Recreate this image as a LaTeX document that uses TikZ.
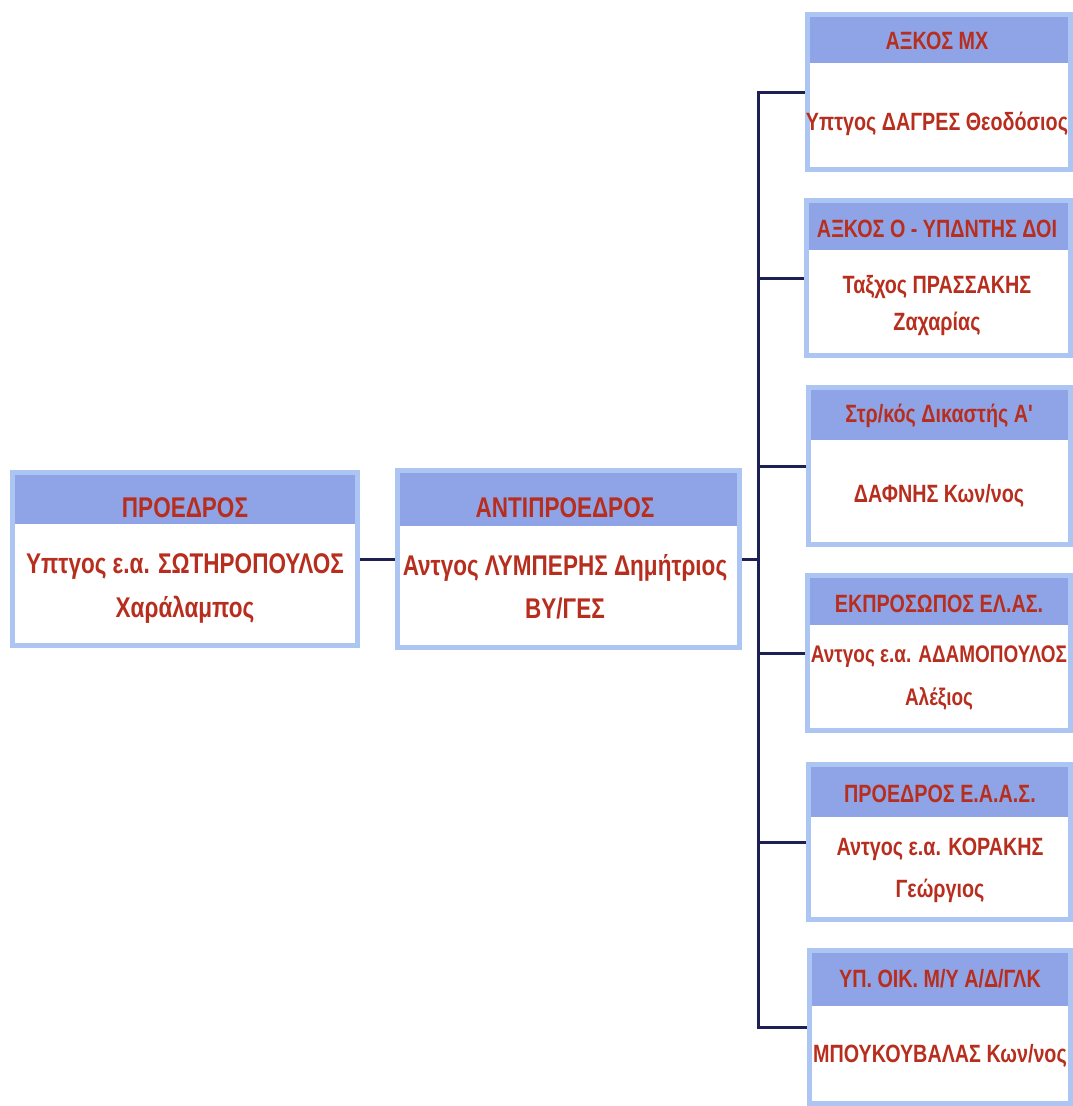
\documentclass[tikz,border=0pt]{standalone}
\usepackage{fontspec}
\newfontfamily\orgfont{Liberation Sans}[FakeStretch=0.79]
\definecolor{edgeblue}{RGB}{172,197,242}
\definecolor{bandblue}{RGB}{143,164,230}
\definecolor{inkred}{RGB}{184,46,30}
\definecolor{navyline}{RGB}{28,32,82}
\tikzset{
  orgbox/.style={rectangle, draw=edgeblue, line width=5pt, fill=white, inner sep=0pt},
  band/.style={rectangle, fill=bandblue, inner sep=0pt, anchor=north},
  bigtext/.style={text=inkred, font=\orgfont\bfseries\fontsize{28.5}{44}\selectfont, align=center, anchor=base, inner sep=0pt},
  smalltext/.style={text=inkred, font=\orgfont\bfseries\fontsize{25}{43}\selectfont, align=center, anchor=base, inner sep=0pt},
  link/.style={draw=navyline, line width=3pt},
}
% box with header band: name, left, top, right, bottom, band bottom
\newcommand\orgunit[6]{%
  \node[orgbox, minimum width={#4-#2-5}, minimum height={#5-#3-5}]
    (#1) at ({(#2+#4)/2},{(#3+#5)/2}) {};
  \node[band, minimum width={#4-#2-10}, minimum height={#6-#3-5}]
    (#1-band) at ({(#2+#4)/2},{#3+5}) {};
}
\begin{document}
\begin{tikzpicture}[x=1pt,y=-1pt]
  \useasboundingbox (0,0) rectangle (1073,1106);
  \fill[white] (0,0) rectangle (1073,1106);

  % president and vice president (two-line names sit on their last baseline)
  \orgunit{pres}{10}{470}{360}{648}{524}
  \node[bigtext] (pres-head) at (185,517) {ΠΡΟΕΔΡΟΣ};
  \node[bigtext] (pres-name) at (185,617) {Υπτγος ε.α. ΣΩΤΗΡΟΠΟΥΛΟΣ\\Χαράλαμπος};

  \orgunit{vice}{395}{468}{742}{650}{526}
  \node[bigtext] (vice-head) at (565,517) {ΑΝΤΙΠΡΟΕΔΡΟΣ};
  \node[bigtext] (vice-name) at (565,618) {Αντγος ΛΥΜΠΕΡΗΣ Δημήτριος\\[-1pt]ΒΥ/ΓΕΣ};

  % members
  \orgunit{m1}{805}{12}{1073}{172}{63}
  \node[smalltext] (m1-head) at (937,49) {ΑΞΚΟΣ ΜΧ};
  \node[smalltext] (m1-name) at (937,130) {Υπτγος ΔΑΓΡΕΣ Θεοδόσιος};

  \orgunit{m2}{804}{198}{1073}{358}{250}
  \node[smalltext] (m2-head) at (937,237) {ΑΞΚΟΣ Ο - ΥΠΔΝΤΗΣ ΔΟΙ};
  \node[smalltext] (m2-name) at (937,330) {Ταξχος ΠΡΑΣΣΑΚΗΣ\\[-6pt]Ζαχαρίας};

  \orgunit{m3}{806}{385}{1073}{547}{440}
  \node[smalltext] (m3-head) at (939,422) {Στρ/κός Δικαστής Α'};
  \node[smalltext] (m3-name) at (939,502) {ΔΑΦΝΗΣ Κων/νος};

  \orgunit{m4}{805}{573}{1073}{733}{625}
  \node[smalltext] (m4-head) at (939,612) {ΕΚΠΡΟΣΩΠΟΣ ΕΛ.ΑΣ.};
  \node[smalltext, font=\orgfont\bfseries\fontsize{24}{43}\selectfont] (m4-name) at (939,705) {Αντγος ε.α. ΑΔΑΜΟΠΟΥΛΟΣ\\Αλέξιος};

  \orgunit{m5}{806}{762}{1073}{922}{817}
  \node[smalltext] (m5-head) at (940,802) {ΠΡΟΕΔΡΟΣ Ε.Α.Α.Σ.};
  \node[smalltext] (m5-name) at (940,897) {Αντγος ε.α. ΚΟΡΑΚΗΣ\\[-1pt]Γεώργιος};

  \orgunit{m6}{807}{948}{1073}{1106}{1006}
  \node[smalltext] (m6-head) at (940,987) {ΥΠ. ΟΙΚ. Μ/Υ Α/Δ/ΓΛΚ};
  \node[smalltext] (m6-name) at (940,1062) {ΜΠΟΥΚΟΥΒΑΛΑΣ Κων/νος};

  % connectors
  \coordinate (bus) at (758,0);
  \draw[link] (pres.east) -- (vice.west);
  \draw[link] (vice.east) -- (vice.east -| bus);
  \draw[link, line cap=rect] (bus |- m1.west) -- (bus |- m6.west);
  \foreach \m in {m1,m2,m3,m4,m5,m6}
    \draw[link] (bus |- \m.west) -- (\m.west);
\end{tikzpicture}
\end{document}
